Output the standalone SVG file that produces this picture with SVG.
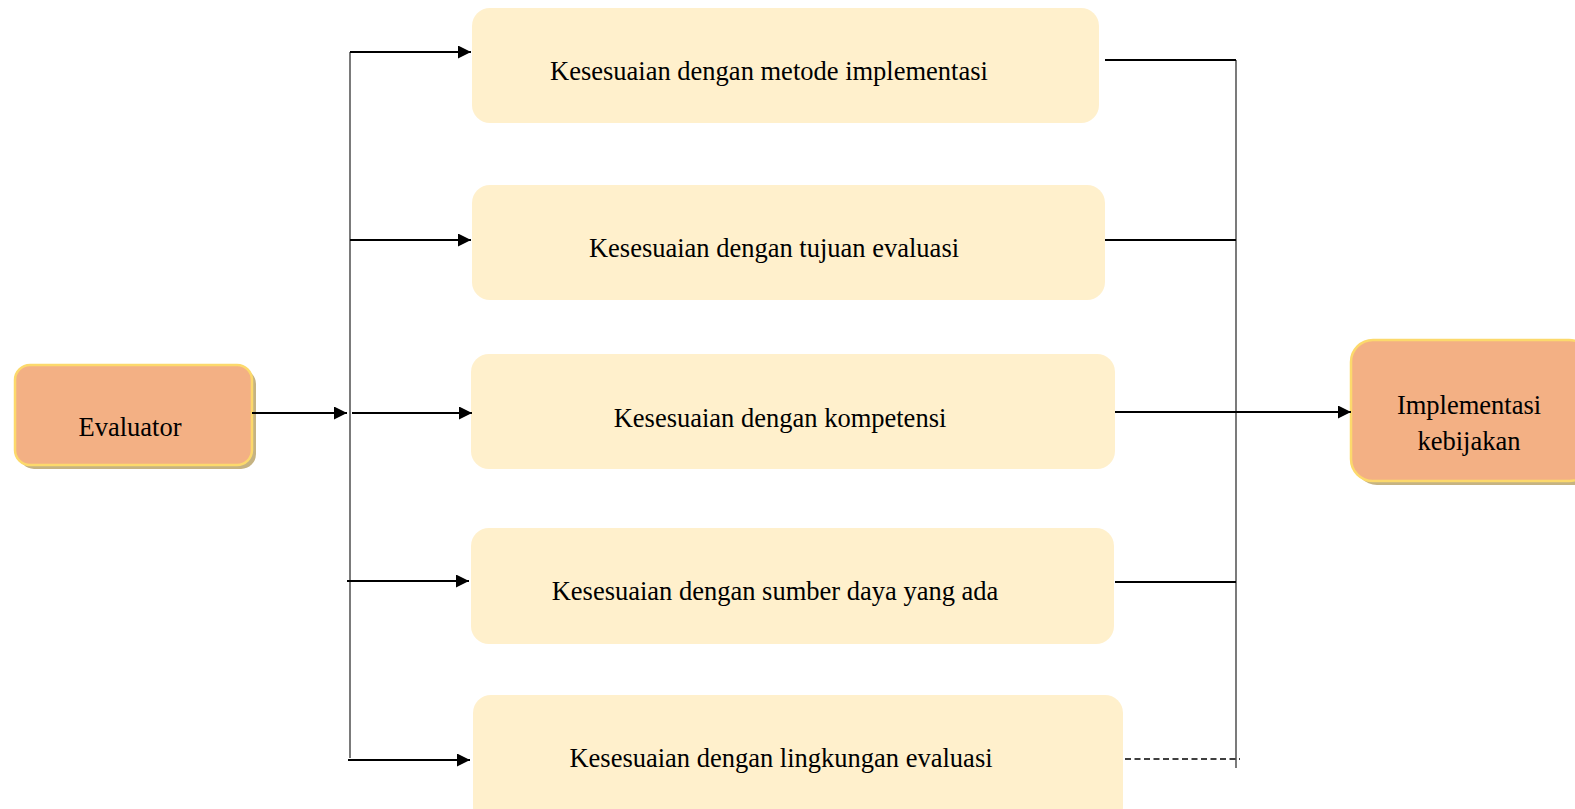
<svg xmlns="http://www.w3.org/2000/svg" width="1575" height="809" viewBox="0 0 1575 809">
  <style>
    .lbl { font-family: "Liberation Serif", "Times New Roman", serif; font-size: 26.5px; fill: #000; text-anchor: middle; }
    .step { fill: #fff0cc; }
    .term { fill: #f3b084; stroke: #fcd96c; stroke-width: 2.5; }
    .shadow { fill: #c6b382; }
    .wire { stroke: #000; stroke-width: 2; fill: none; }
    .rail { stroke: #333; stroke-width: 1.3; fill: none; }
    .dash { stroke: #000; stroke-width: 1.5; stroke-dasharray: 6 3.5; fill: none; }
  </style>
  <defs>
    <marker id="arrow" viewBox="0 0 13 13" refX="13" refY="6.5" markerWidth="13" markerHeight="13" markerUnits="userSpaceOnUse" orient="auto">
      <path d="M0,0 L13,6.5 L0,13 Z" fill="#000"/>
    </marker>
  </defs>
  <rect width="1575" height="809" fill="#fff"/>

  <g id="evaluator">
    <rect class="shadow" x="19" y="369" width="237" height="100" rx="15"/>
    <rect class="term" x="15" y="365" width="237" height="100" rx="15"/>
    <text class="lbl" x="130" y="436">Evaluator</text>
  </g>

  <g id="metode">
    <rect class="step" x="472" y="8" width="627" height="115" rx="18"/>
    <text class="lbl" x="769" y="80">Kesesuaian dengan metode implementasi</text>
  </g>

  <g id="tujuan">
    <rect class="step" x="472" y="185" width="633" height="115" rx="18"/>
    <text class="lbl" x="774" y="257">Kesesuaian dengan tujuan evaluasi</text>
  </g>

  <g id="kompetensi">
    <rect class="step" x="471" y="354" width="644" height="115" rx="18"/>
    <text class="lbl" x="780" y="427">Kesesuaian dengan kompetensi</text>
  </g>

  <g id="sumber-daya">
    <rect class="step" x="471" y="528" width="643" height="116" rx="18"/>
    <text class="lbl" x="775" y="600">Kesesuaian dengan sumber daya yang ada</text>
  </g>

  <g id="lingkungan">
    <rect class="step" x="473" y="695" width="650" height="130" rx="18"/>
    <text class="lbl" x="781" y="767">Kesesuaian dengan lingkungan evaluasi</text>
  </g>

  <g id="implementasi">
    <rect class="shadow" x="1355" y="344" width="240" height="141" rx="22"/>
    <rect class="term" x="1351" y="340" width="240" height="141" rx="22"/>
    <text class="lbl" x="1469" y="414">Implementasi</text>
    <text class="lbl" x="1469" y="450">kebijakan</text>
  </g>

  <g id="connectors">
    <!-- evaluator into the left rail -->
    <line class="wire" x1="252" y1="413" x2="347" y2="413" marker-end="url(#arrow)"/>
    <!-- left rail and branches -->
    <line class="rail" x1="350" y1="52" x2="350" y2="758"/>
    <line class="wire" x1="350" y1="52" x2="471" y2="52" marker-end="url(#arrow)"/>
    <line class="wire" x1="350" y1="240" x2="471" y2="240" marker-end="url(#arrow)"/>
    <line class="wire" x1="352" y1="413" x2="472" y2="413" marker-end="url(#arrow)"/>
    <line class="wire" x1="347" y1="581" x2="469" y2="581" marker-end="url(#arrow)"/>
    <line class="wire" x1="348" y1="760" x2="470" y2="760" marker-end="url(#arrow)"/>
    <!-- right rail and merges -->
    <line class="rail" x1="1236" y1="60" x2="1236" y2="768"/>
    <line class="wire" x1="1105" y1="60" x2="1236" y2="60"/>
    <line class="wire" x1="1105" y1="240" x2="1236" y2="240"/>
    <line class="wire" x1="1115" y1="412" x2="1351" y2="412" marker-end="url(#arrow)"/>
    <line class="wire" x1="1115" y1="582" x2="1236" y2="582"/>
    <line class="dash" x1="1125" y1="759" x2="1240" y2="759"/>
  </g>
</svg>
